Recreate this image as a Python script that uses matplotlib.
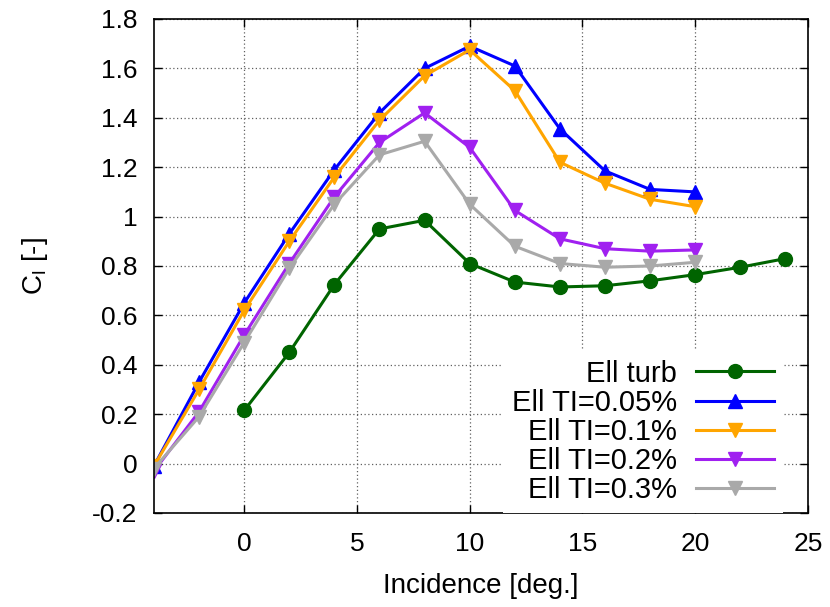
import matplotlib
matplotlib.use("Agg")
import matplotlib.pyplot as plt

plt.rcParams["font.family"] = ["Liberation Sans", "DejaVu Sans"]
plt.rcParams["mathtext.fontset"] = "custom"
plt.rcParams["mathtext.rm"] = "Liberation Sans"

# incidence angles [deg]
x_turb = [0, 2, 4, 6, 8, 10, 12, 14, 16, 18, 20, 22, 24]
x_ti = [-4, -2, 0, 2, 4, 6, 8, 10, 12, 14, 16, 18, 20]

cl_turb = [0.215, 0.45, 0.725, 0.95, 0.985, 0.81, 0.735, 0.715, 0.72, 0.74, 0.765, 0.795, 0.83]
cl_ti005 = [-0.01, 0.33, 0.65, 0.93, 1.19, 1.42, 1.60, 1.69, 1.61, 1.355, 1.185, 1.11, 1.10]
cl_ti01 = [-0.01, 0.30, 0.62, 0.90, 1.16, 1.39, 1.57, 1.675, 1.51, 1.22, 1.135, 1.07, 1.04]
cl_ti02 = [-0.03, 0.21, 0.52, 0.81, 1.08, 1.30, 1.42, 1.28, 1.025, 0.91, 0.87, 0.86, 0.865]
cl_ti03 = [-0.02, 0.19, 0.49, 0.79, 1.05, 1.25, 1.305, 1.05, 0.88, 0.81, 0.795, 0.80, 0.815]

labels = ["Ell turb", "Ell TI=0.05%", "Ell TI=0.1%", "Ell TI=0.2%", "Ell TI=0.3%"]

fs = 20

fig = plt.figure(figsize=(8.3, 6.07), dpi=100)
ax = fig.add_axes([0.1855, 0.1549, 0.788, 0.8138])

lw = 2.2
ms = 10
ax.plot(x_turb, cl_turb, color="#006400", lw=lw, marker="o", ms=ms, label=labels[0])
ax.plot(x_ti, cl_ti005, color="#0000ff", lw=lw, marker="^", ms=ms, label=labels[1])
ax.plot(x_ti, cl_ti01, color="#ffa500", lw=lw, marker="v", ms=ms, label=labels[2])
ax.plot(x_ti, cl_ti02, color="#a020f0", lw=lw, marker="v", ms=ms, label=labels[3])
ax.plot(x_ti, cl_ti03, color="#a9a9a9", lw=lw, marker="v", ms=ms, label=labels[4])

ax.set_xlim(-4, 25)
ax.set_ylim(-0.2, 1.8)
ax.set_xticks([0, 5, 10, 15, 20, 25])
ax.set_yticks([-0.2, 0, 0.2, 0.4, 0.6, 0.8, 1, 1.2, 1.4, 1.6, 1.8])
ax.set_yticklabels(["-0.2", "0", "0.2", "0.4", "0.6", "0.8", "1", "1.2", "1.4", "1.6", "1.8"])
ax.tick_params(direction="in", top=True, right=True, labelsize=19, length=6, width=1)
ax.tick_params(axis="y", pad=12)
ax.tick_params(axis="x", pad=14)
ax.grid(True, color="#606060", linestyle=(0, (1, 2)), linewidth=0.9)
for s in ax.spines.values():
    s.set_linewidth(1.2)

ax.set_xlabel("Incidence [deg.]", fontsize=fs, labelpad=12)
ax.set_ylabel(r"C$_{\mathregular{l}}$ [-]", fontsize=fs, labelpad=30)

leg = ax.legend(loc="lower right", bbox_to_anchor=(0.962, 0.0), markerfirst=False,
                fontsize=21, frameon=True, fancybox=False, handlelength=2.7,
                labelspacing=0.04, borderaxespad=0.0, borderpad=0.3, handletextpad=0.65)
leg.get_frame().set_edgecolor("none")
leg.get_frame().set_facecolor("white")
leg.get_frame().set_alpha(1.0)
leg.get_frame().set_linewidth(0)
for t in leg.get_texts():
    t.set_ha("right")

fig.savefig("out.png", dpi=100)
